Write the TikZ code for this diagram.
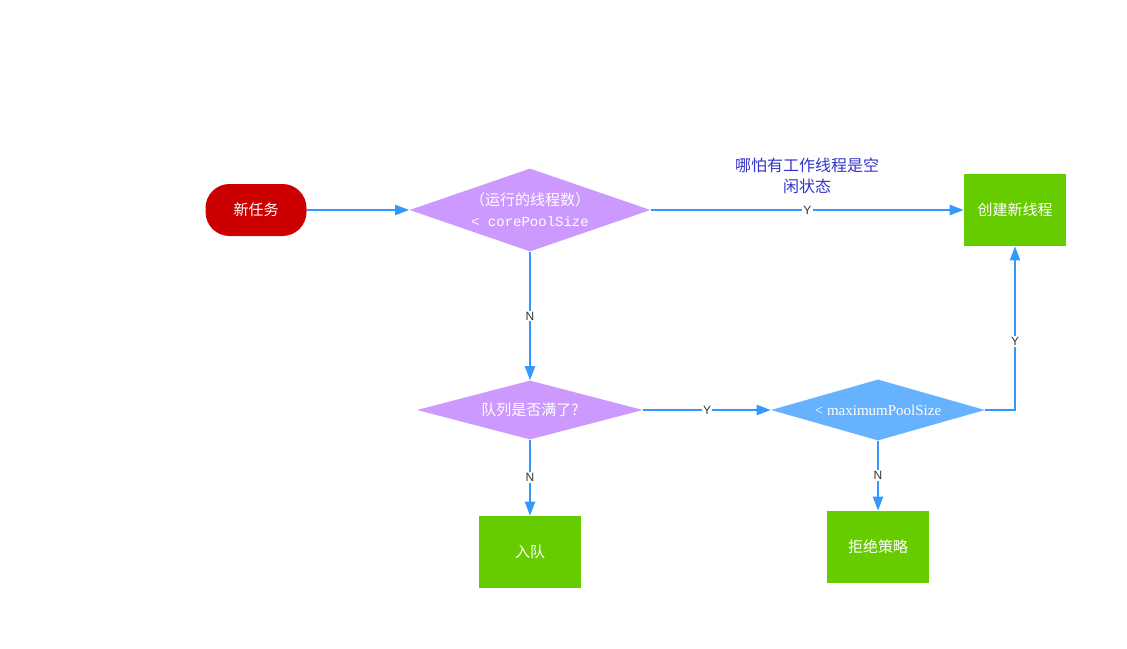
\documentclass[tikz,border=0pt]{standalone}
\usepackage{fontspec}
\setmainfont{Liberation Serif}
\setsansfont{Liberation Sans}
\setmonofont{Liberation Mono}
\newfontfamily\cjk{Noto Sans CJK SC}
\usetikzlibrary{arrows.meta, shapes.geometric}
\definecolor{startred}{RGB}{204,0,0}
\definecolor{condpurple}{RGB}{204,153,255}
\definecolor{condblue}{RGB}{102,178,255}
\definecolor{taskgreen}{RGB}{102,204,0}
\definecolor{lineblue}{RGB}{51,153,255}
\definecolor{noteblue}{RGB}{51,51,204}
\definecolor{yngray}{RGB}{51,51,51}

\tikzset{
  startbox/.style={draw=none, fill=startred, rounded corners=18pt, minimum width=75.75pt, minimum height=39pt, text=white, font=\cjk\fontsize{11.25}{15.75}\selectfont},
  decision/.style={diamond, draw=none, inner sep=0pt, aspect=2.9, text=white, align=center, font=\fontsize{11.25}{15.75}\selectfont},
  taskbox/.style={draw=none, fill=taskgreen, minimum width=76.5pt, minimum height=54pt, text=white, font=\cjk\fontsize{11.25}{15.75}\selectfont},
  flowline/.style={draw=lineblue, line width=1.5pt, -{Triangle[length=10.5pt, width=7.5pt]}},
  yn/.style={fill=white, inner sep=1pt, text=yngray, font=\sffamily\fontsize{9}{10}\selectfont}
}

\begin{document}
\begin{tikzpicture}[x=0.75pt, y=-0.75pt]
  \useasboundingbox (0,0) rectangle (1127,649);

  \node[startbox] (newtask) at (256,210) {新任务};
  \node[decision, fill=condpurple, minimum width=180.75pt, minimum height=62.25pt] (core) at (530,210)
    {{\cjk （运行的线程数）}\\{\ttfamily\fontsize{10.5}{15.75}\selectfont < corePoolSize}};
  \node[taskbox] (create) at (1015,210) {创建新线程};
  \node[decision, fill=condpurple, minimum width=169.5pt, minimum height=44.25pt] (queue) at (530,410) {\cjk 队列是否满了?};
  \node[decision, fill=condblue, minimum width=160.5pt, minimum height=45.75pt] (maxsize) at (878,410) {< maximumPoolSize};
  \node[taskbox] (enqueue) at (530,552) {入队};
  \node[taskbox] (reject) at (878,547) {拒绝策略};

  \node[text=noteblue, align=center, font=\cjk\fontsize{12}{15.75}\selectfont] (note) at (807,176) {哪怕有工作线程是空\\闲状态};

  % connectors
  \draw[flowline] (newtask) -- (core);
  \draw[flowline] (core) -- node[yn] {Y} (create);
  \draw[flowline] (core) -- node[yn] {N} (queue);
  \draw[flowline] (queue) -- node[yn] {Y} (maxsize);
  \draw[flowline] (queue) -- node[yn] {N} (enqueue);
  \draw[flowline] (maxsize) -- node[yn] {N} (reject);
  \draw[flowline] (maxsize.east) -| node[yn, pos=0.71] {Y} (create.south);
\end{tikzpicture}
\end{document}
